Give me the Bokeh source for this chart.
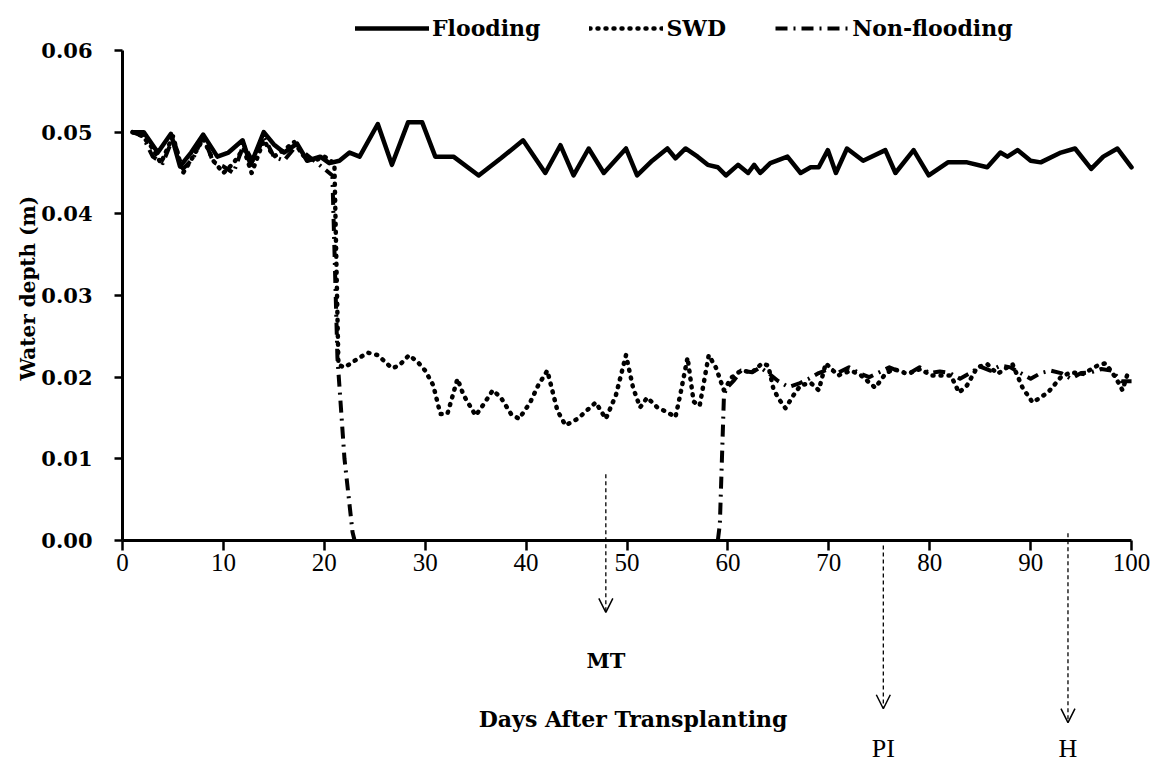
import math
from bokeh.plotting import figure
from bokeh.models import (Range1d, FixedTicker, NumeralTickFormatter, Legend, LegendItem,
                          Label, Arrow, OpenHead, LinearAxis)
from bokeh.embed import file_html
from bokeh.resources import INLINE

NaN = float("nan")

# ---------------- data ----------------
flood_x = [1, 2.1, 3.5, 4.8, 5.7, 6.8, 8, 9.4, 10.5, 11.9, 12.7, 14, 15, 16, 17.3, 18.3, 19.6, 20.5,
           21.5, 22.5, 23.5, 25.3, 26.7, 28.3, 29.7, 31, 32.8, 35.3, 37.5, 39.7, 41.9, 43.4, 44.7,
           46.2, 47.7, 49.9, 51, 52.5, 54, 54.8, 55.8, 57, 58, 59, 59.8, 61, 62, 62.6, 63.2, 64.2,
           65.9, 67.2, 68.2, 69, 69.9, 70.7, 71.8, 73.4, 75.6, 76.6, 78.4, 79.9, 81.8, 83.7, 85.7,
           87, 87.7, 88.7, 90, 91, 93, 94.4, 96, 97.2, 98.6, 99.2, 100]
flood_y = [0.0500, 0.0500, 0.0475, 0.0498, 0.0458, 0.0475, 0.0497, 0.0470, 0.0475, 0.0490, 0.0460,
           0.0500, 0.0485, 0.0475, 0.0486, 0.0465, 0.0470, 0.0462, 0.0465, 0.0475, 0.0470, 0.0510,
           0.0460, 0.0512, 0.0512, 0.0470, 0.0470, 0.0447, 0.0468, 0.0490, 0.0450, 0.0484, 0.0447,
           0.0480, 0.0450, 0.0480, 0.0447, 0.0465, 0.0480, 0.0468, 0.0480, 0.0470, 0.0460, 0.0457,
           0.0447, 0.0460, 0.0450, 0.0460, 0.0450, 0.0462, 0.0470, 0.0450, 0.0457, 0.0457, 0.0478,
           0.0450, 0.0480, 0.0465, 0.0478, 0.0450, 0.0478, 0.0447, 0.0463, 0.0463, 0.0457, 0.0475,
           0.0470, 0.0478, 0.0465, 0.0463, 0.0475, 0.0480, 0.0455, 0.0470, 0.0480, 0.0470, 0.0457]

swd_x = [1, 2, 3, 3.8, 5, 6, 7, 8, 9, 10, 11, 12, 12.8, 14, 15, 16, 17, 18, 19, 20, 21, 21.4, 22,
         23, 24.3, 25.3, 26.7, 27.4, 28.4, 29.3, 30, 30.8, 31.5, 32.2, 33.2, 33.8, 35, 35.8, 36.7,
         37.5, 38.5, 39.3, 40.4, 41.2, 42.1, 43.1, 43.9, 45.1, 46.9, 47.9, 48.9, 49.9, 50.6, 51.3,
         52, 53, 54, 54.8, 55.3, 56, 56.6, 57.2, 58.1, 58.8, 59.6, 60.4, 61.3, 62.4, 63.4, 64,
         64.5, 65, 65.7, 66.5, 67.2, 68.2, 69, 69.7, 70.9, 72.2, 73.2, 74.6, 75.6, 76.4, 77.8,
         79.1, 80.1, 82.1, 82.9, 83.7, 84.7, 85.7, 86.7, 88.2, 89.2, 90.2, 91.7, 93, 94, 95.2,
         96.6, 97.4, 98.4, 99.1, 99.7]
swd_y = [0.0500, 0.0495, 0.0480, 0.0462, 0.0495, 0.0450, 0.0470, 0.0492, 0.0465, 0.0450, 0.0462,
         0.0480, 0.0450, 0.0490, 0.0470, 0.0478, 0.0488, 0.0470, 0.0465, 0.0470, 0.0462, 0.0215,
         0.0212, 0.0220, 0.0230, 0.0227, 0.0211, 0.0214, 0.0227, 0.0218, 0.0208, 0.0190, 0.0155,
         0.0155, 0.0198, 0.0178, 0.0153, 0.0167, 0.0184, 0.0175, 0.0155, 0.0149, 0.0169, 0.0190,
         0.0208, 0.0159, 0.0141, 0.0149, 0.0169, 0.0149, 0.0178, 0.0227, 0.0187, 0.0163, 0.0175,
         0.0163, 0.0157, 0.0151, 0.0180, 0.0224, 0.0170, 0.0165, 0.0227, 0.0212, 0.0184, 0.0200,
         0.0208, 0.0206, 0.0217, 0.0214, 0.0186, 0.0174, 0.0162, 0.0178, 0.0190, 0.0193, 0.0184,
         0.0217, 0.0202, 0.0208, 0.0202, 0.0187, 0.0204, 0.0210, 0.0204, 0.0210, 0.0202, 0.0202,
         0.0181, 0.0190, 0.0212, 0.0216, 0.0204, 0.0216, 0.0187, 0.0169, 0.0181, 0.0200, 0.0206,
         0.0204, 0.0214, 0.0217, 0.0200, 0.0184, 0.0208]

# the stretch at 0 between day 23 and day 59 lies under the x axis (not visible in the source)
nonflood_x = [1, 2, 3, 4, 5, 6, 7, 8, 9, 10, 11, 12, 13, 14, 15, 16, 17, 18, 19, 20, 20.8, 21.3,
              22, 22.8, 23, 41, 59, 59.2, 59.6, 59.8, 60.6, 61.3, 62.4, 63.2, 64, 65, 66, 67, 68,
              69, 70, 71, 72, 73, 74, 75, 76, 77, 78, 79, 80, 81, 82, 83, 84, 85, 86, 87, 88, 89,
              90, 91, 92, 93, 94, 95, 96, 97, 98, 99, 100]
nonflood_y = [0.0500, 0.0495, 0.0470, 0.0462, 0.0493, 0.0455, 0.0468, 0.0495, 0.0463, 0.0458,
              0.0450, 0.0485, 0.0462, 0.0495, 0.0470, 0.0465, 0.0480, 0.0475, 0.0465, 0.0455,
              0.0447, 0.0224, 0.0100, 0.0010, 0.0000, NaN, 0.0000, 0.0020, 0.0175, 0.0186,
              0.0196, 0.0208, 0.0206, 0.0212, 0.0205, 0.0195, 0.0188, 0.0192, 0.0198, 0.0205,
              0.0210, 0.0206, 0.0212, 0.0205, 0.0200, 0.0206, 0.0212, 0.0207, 0.0205, 0.0212,
              0.0205, 0.0207, 0.0205, 0.0198, 0.0205, 0.0213, 0.0208, 0.0214, 0.0212, 0.0205,
              0.0198, 0.0205, 0.0208, 0.0205, 0.0198, 0.0205, 0.0206, 0.0210, 0.0208, 0.0195,
              0.0195]

x_ticks = [0, 10, 20, 30, 40, 50, 60, 70, 80, 90, 100]
y_ticks = [0.00, 0.01, 0.02, 0.03, 0.04, 0.05, 0.06]

stage_names = ["MT", "PI", "H"]
stage_days = [47.9, 75.4, 93.7]

BOLD_FONT = "DejaVu Serif"
REG_FONT = "Liberation Serif"

# ---------------- figure ----------------
# The frame covers the whole page; axes are pinned at x=0 / y=0 with fixed_location.
p = figure(width=1159, height=769, output_backend="svg", toolbar_location=None,
           x_range=Range1d(-12.09, 102.77), y_range=Range1d(-0.02804, 0.06612),
           x_axis_location=None, y_axis_location=None,
           min_border=0, min_border_left=0, min_border_right=0,
           min_border_top=0, min_border_bottom=0)
p.outline_line_color = None
p.background_fill_color = "white"
p.border_fill_color = "white"
p.grid.visible = False

xaxis = LinearAxis(ticker=FixedTicker(ticks=x_ticks), fixed_location=0, bounds=(0, 100))
yaxis = LinearAxis(ticker=FixedTicker(ticks=y_ticks), fixed_location=0, bounds=(0, 0.06),
                   formatter=NumeralTickFormatter(format="0.00"))
for ax in (xaxis, yaxis):
    ax.axis_line_width = 3
    ax.axis_line_color = "black"
    ax.major_tick_line_width = 2.5
    ax.major_tick_line_color = "black"
    ax.minor_tick_line_color = None
    ax.major_label_text_color = "black"
xaxis.major_tick_out = 10
xaxis.major_tick_in = 0
xaxis.major_label_standoff = 4
xaxis.major_label_text_font = REG_FONT
xaxis.major_label_text_font_size = "25px"
yaxis.major_tick_out = 8
yaxis.major_tick_in = 0
yaxis.major_label_standoff = 22
yaxis.major_label_text_font = BOLD_FONT
yaxis.major_label_text_font_style = "bold"
yaxis.major_label_text_font_size = "21px"
p.add_layout(xaxis, "below")
p.add_layout(yaxis, "left")

# series
r_flood = p.line(flood_x, flood_y, line_color="black", line_width=4.5,
                 line_join="round", line_cap="round")
r_swd = p.line(swd_x, swd_y, line_color="black", line_width=4.5, line_dash="1 7",
               line_cap="round", line_join="round")
r_non = p.line(nonflood_x, nonflood_y, line_color="black", line_width=4,
               line_dash="12 6 2 6", line_join="round")

# legend above the 0.06 level
legend = Legend(items=[LegendItem(label="Flooding", renderers=[r_flood]),
                       LegendItem(label="SWD", renderers=[r_swd]),
                       LegendItem(label="Non-flooding", renderers=[r_non])],
                orientation="horizontal", location=(355, 728),
                glyph_width=74, glyph_height=20, label_standoff=3, spacing=49,
                padding=4, margin=0, border_line_color=None, background_fill_alpha=0,
                label_text_font=BOLD_FONT, label_text_font_style="bold",
                label_text_font_size="22px", label_text_color="black")
p.add_layout(legend, "center")

# y axis title
p.add_layout(Label(x=-9.4, y=0.0309, text="Water depth (m)", angle=math.pi / 2,
                   text_align="center", text_baseline="middle",
                   text_font=BOLD_FONT, text_font_style="bold", text_font_size="20px",
                   text_color="black"))

# x axis title (placed as in the reference)
p.add_layout(Label(x=50.6, y=-0.0218, text="Days After Transplanting",
                   text_align="center", text_baseline="middle",
                   text_font=BOLD_FONT, text_font_style="bold", text_font_size="22px",
                   text_color="black"))

# stage arrows and labels
arrow_top = [0.0081, -0.0006, 0.0009]
arrow_tip = [-0.0088, -0.0206, -0.0223]
label_y = [-0.0147, -0.0255, -0.0255]
label_bold = [True, False, False]
for name, d, y0, y1, ly, b in zip(stage_names, stage_days, arrow_top, arrow_tip, label_y, label_bold):
    p.add_layout(Arrow(x_start=d, y_start=y0, x_end=d, y_end=y1,
                       line_color="black", line_width=1.3, line_dash="4 3",
                       end=OpenHead(size=14, line_width=1.5, line_color="black")))
    p.add_layout(Label(x=d, y=ly, text=name, text_align="center", text_baseline="middle",
                       text_font=BOLD_FONT if b else REG_FONT,
                       text_font_style="bold" if b else "normal",
                       text_font_size="21px" if b else "26px", text_color="black"))

open("out.html", "w").write(file_html(p, INLINE))
